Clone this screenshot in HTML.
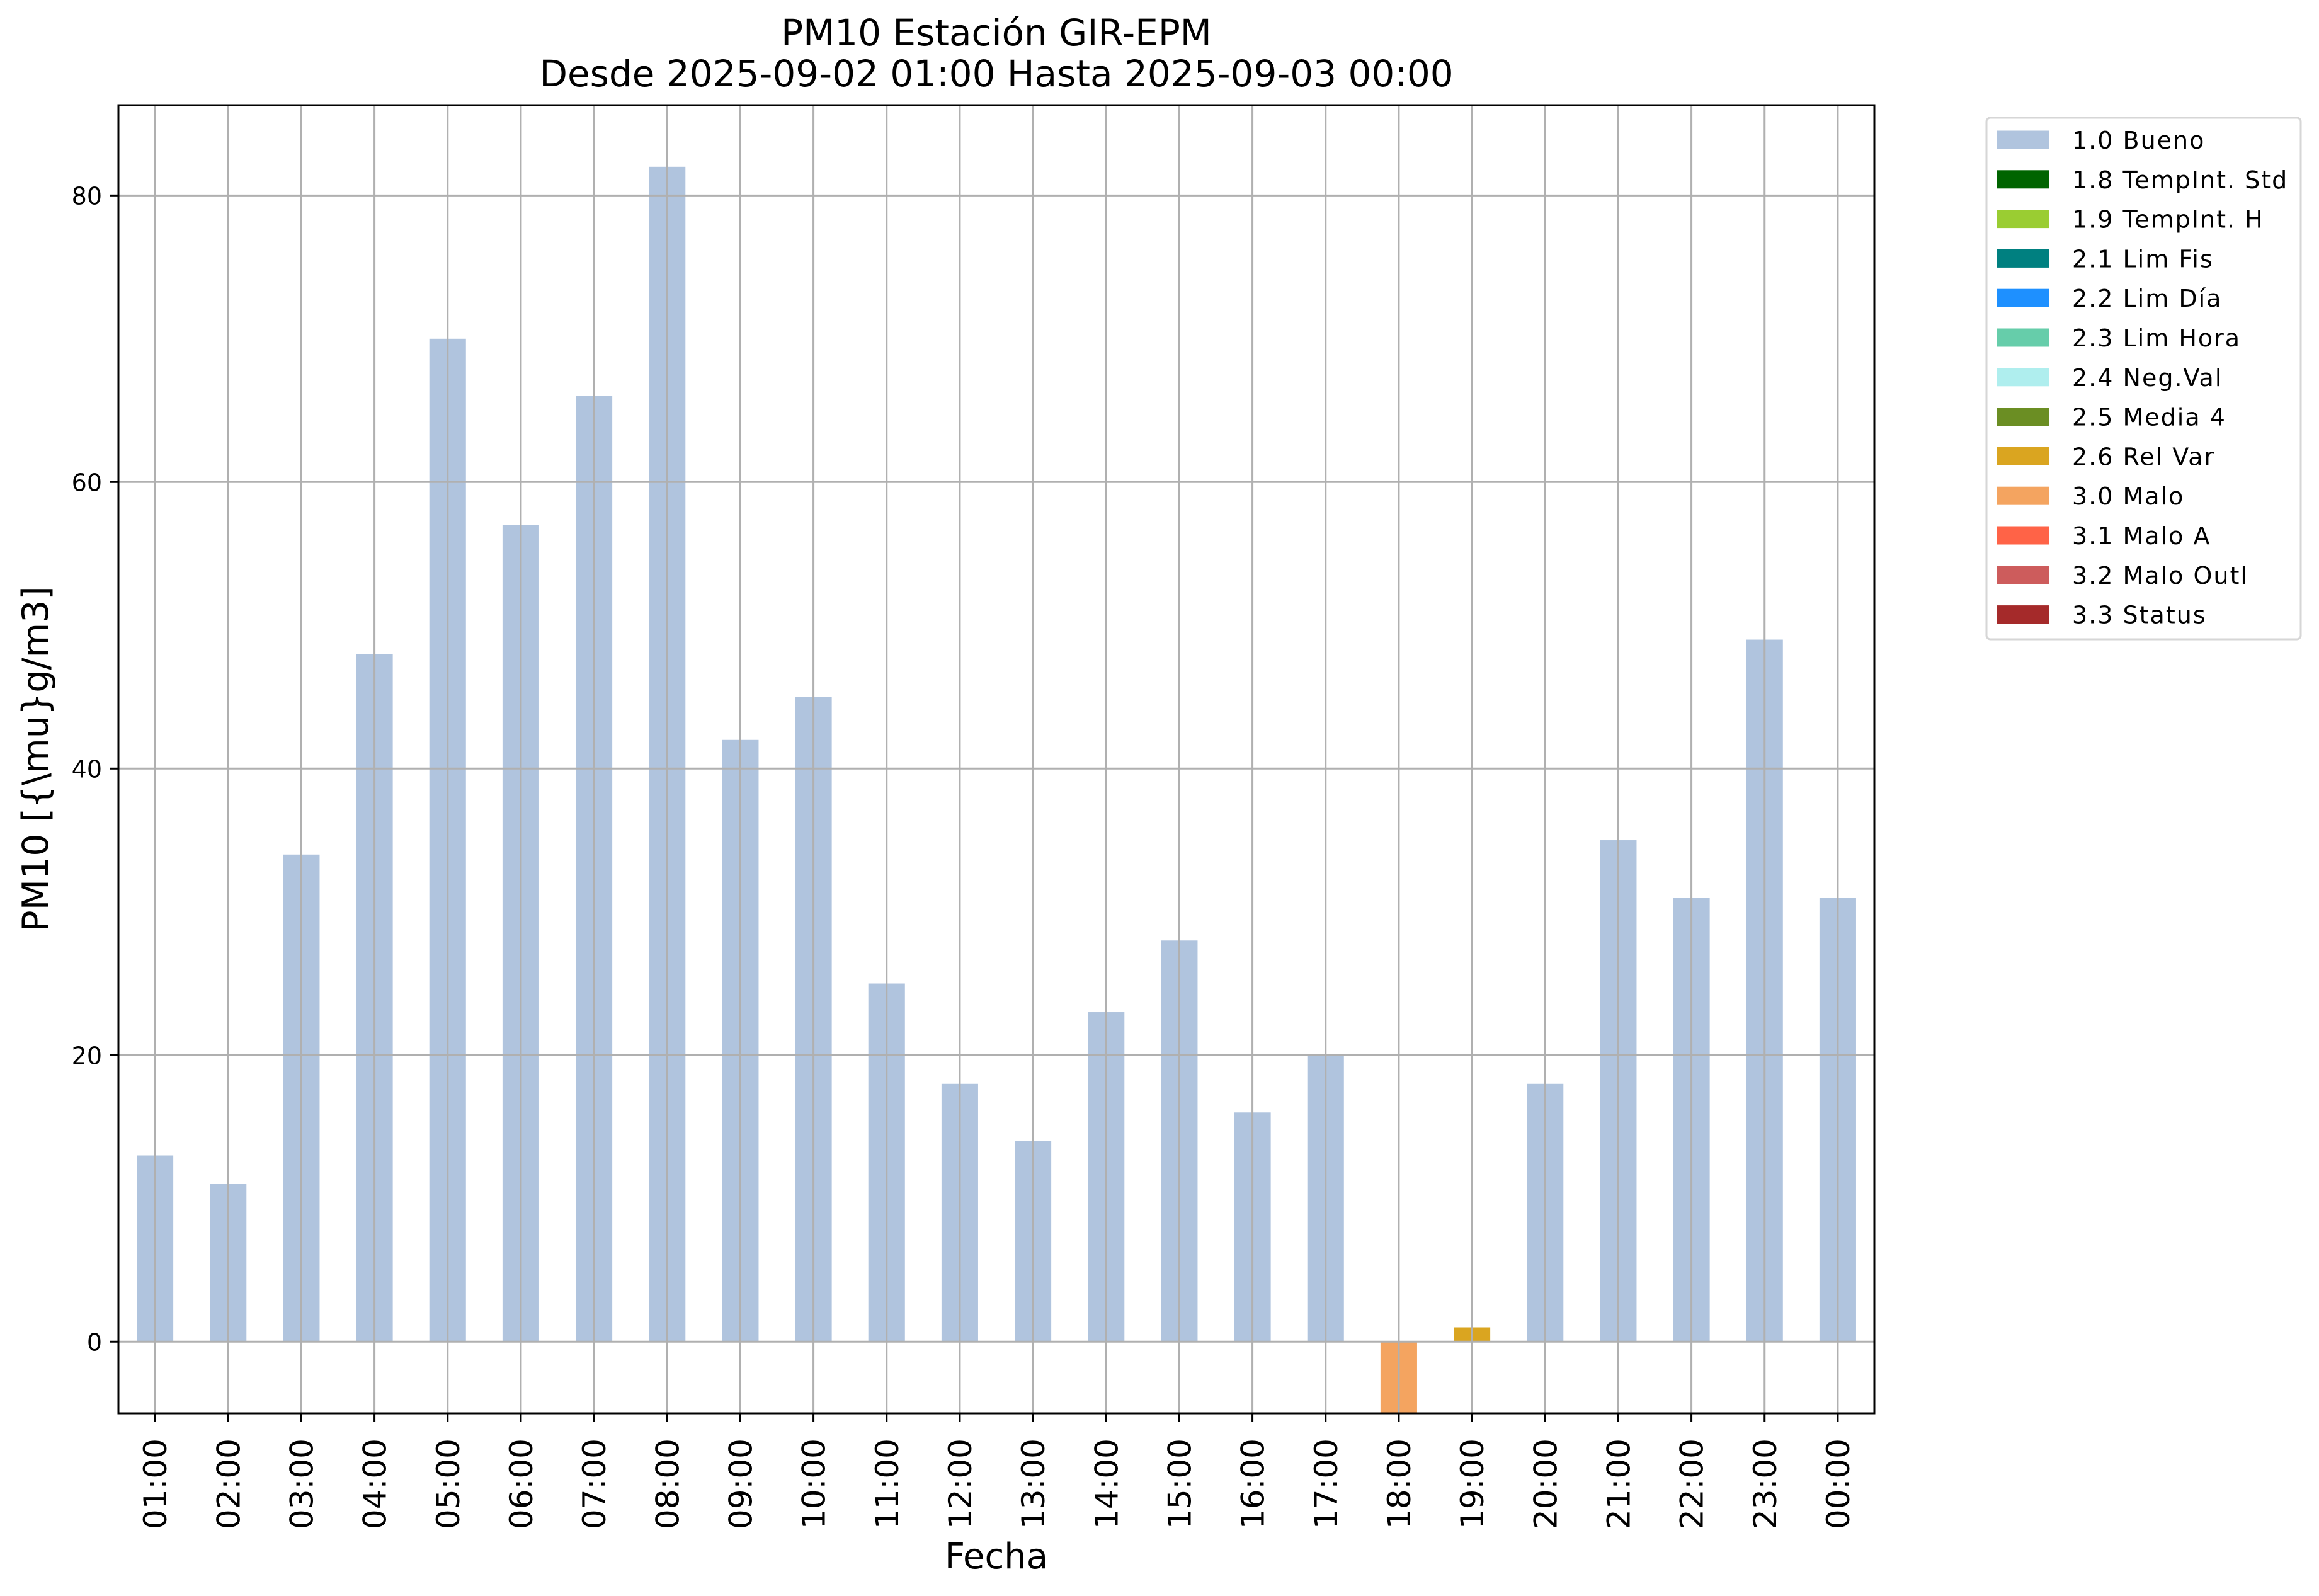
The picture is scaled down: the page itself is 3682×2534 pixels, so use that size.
<!DOCTYPE html>
<html><head><meta charset="utf-8">
<style>
html,body{margin:0;padding:0;background:#fff;}
svg{display:block;font-family:"DejaVu Sans","Liberation Sans",sans-serif;}
</style></head>
<body>
<svg id="chart" width="3682" height="2534" viewBox="0 0 3682 2534" xmlns="http://www.w3.org/2000/svg">
  <rect x="0" y="0" width="3682" height="2534" fill="#fff"/>
  <text x="1582" y="72" font-size="58" text-anchor="middle">PM10 Estación GIR-EPM</text>
  <text x="1582" y="137" font-size="58" text-anchor="middle">Desde 2025-09-02 01:00 Hasta 2025-09-03 00:00</text>
  <g id="bars"></g>
  <g id="grid"></g>
  <rect x="188" y="167" width="2788" height="2077" fill="none" stroke="#000" stroke-width="3"/>
  <g id="yticks"></g>
  <g id="xticks"></g>
  <text x="1582" y="2490" font-size="56" text-anchor="middle">Fecha</text>
  <text x="0" y="0" font-size="57" text-anchor="middle" transform="translate(76,1205) rotate(-90)">PM10 [{\mu}g/m3]</text>
  <g id="legend">
    <rect x="3154" y="187" width="499" height="828" rx="6" fill="#fff" stroke="#d6d6d6" stroke-width="3"/>
  </g>
</svg>
<script>
const categories = ["01:00","02:00","03:00","04:00","05:00","06:00","07:00","08:00","09:00","10:00","11:00","12:00","13:00","14:00","15:00","16:00","17:00","18:00","19:00","20:00","21:00","22:00","23:00","00:00"];
const values = [13,11,34,48,70,57,66,82,42,45,25,18,14,23,28,16,20,-5,1,18,35,31,49,31];
const flags = ["1.0","1.0","1.0","1.0","1.0","1.0","1.0","1.0","1.0","1.0","1.0","1.0","1.0","1.0","1.0","1.0","1.0","3.0","2.6","1.0","1.0","1.0","1.0","1.0"];
const yTicks = [0,20,40,60,80];
const legendLabels = ["1.0 Bueno","1.8 TempInt. Std","1.9 TempInt. H","2.1 Lim Fis","2.2 Lim Día","2.3 Lim Hora","2.4 Neg.Val","2.5 Media 4","2.6 Rel Var","3.0 Malo","3.1 Malo A","3.2 Malo Outl","3.3 Status"];
const legendColors = ["#b0c4de","#006400","#9acd32","#008080","#1e90ff","#66cdaa","#afeeee","#6b8e23","#daa520","#f4a460","#ff6347","#cd5c5c","#a52a2a"];

const NS = "http://www.w3.org/2000/svg";
const PL = 188, PR = 2976, PT = 167, PB = 2244;
const YMIN = -5, YMAX = 86.3;
const band = (PR - PL) / categories.length;
function xS(i){ return PL + band * (i + 0.5); }
function yS(v){ return PB - (v - YMIN) / (YMAX - YMIN) * (PB - PT); }
function mk(tag, attrs, parent){ const e = document.createElementNS(NS, tag); for (const k in attrs) e.setAttribute(k, attrs[k]); parent.appendChild(e); return e; }
function colorFor(f){ const i = legendLabels.findIndex(l => l.startsWith(f)); return legendColors[i >= 0 ? i : 0]; }

const gBars = document.getElementById("bars");
values.forEach((v, i) => {
  const y0 = yS(0), y1 = yS(Math.max(YMIN, Math.min(YMAX, v)));
  const r = mk("rect", {x: xS(i) - band * 0.25, y: Math.min(y0, y1), width: band * 0.5, height: Math.abs(y1 - y0), fill: colorFor(flags[i])}, gBars);
  
  
});

const gGrid = document.getElementById("grid");
categories.forEach((c, i) => {
  const l = mk("line", {x1: xS(i), x2: xS(i), y1: PT, y2: PB, stroke: "#b0b0b0", "stroke-width": 3}, gGrid);
  
  
});
yTicks.forEach(t => {
  const l = mk("line", {x1: PL, x2: PR, y1: yS(t), y2: yS(t), stroke: "#b0b0b0", "stroke-width": 3}, gGrid);
  
  
});

const gY = document.getElementById("yticks");
yTicks.forEach(t => {
  const tk = mk("line", {x1: PL - 14, x2: PL, y1: yS(t), y2: yS(t), stroke: "#000", "stroke-width": 3}, gY);
  
  
  const tx = mk("text", {x: PL - 26, y: yS(t) + 14, "font-size": 38, "text-anchor": "end"}, gY);
  tx.textContent = t;
  
  
});

const gX = document.getElementById("xticks");
categories.forEach((c, i) => {
  const tk = mk("line", {x1: xS(i), x2: xS(i), y1: PB, y2: PB + 14, stroke: "#000", "stroke-width": 3}, gX);
  
  
  const tx = mk("text", {x: 0, y: 0, "font-size": 50, "text-anchor": "end", transform: "translate(" + (xS(i) + 18) + "," + (PB + 40) + ") rotate(-90)"}, gX);
  tx.textContent = c;
  
  
});

const gL = document.getElementById("legend");
legendLabels.forEach((lab, i) => {
  const cy = 222 + i * 62.8;
  const p = mk("rect", {x: 3171, y: cy - 14.5, width: 83, height: 29, fill: legendColors[i]}, gL);
  
  
  const t = mk("text", {x: 3290, y: cy + 14, "font-size": 38, "letter-spacing": 2}, gL);
  t.textContent = lab;
  
  
});
</script>
</body></html>
